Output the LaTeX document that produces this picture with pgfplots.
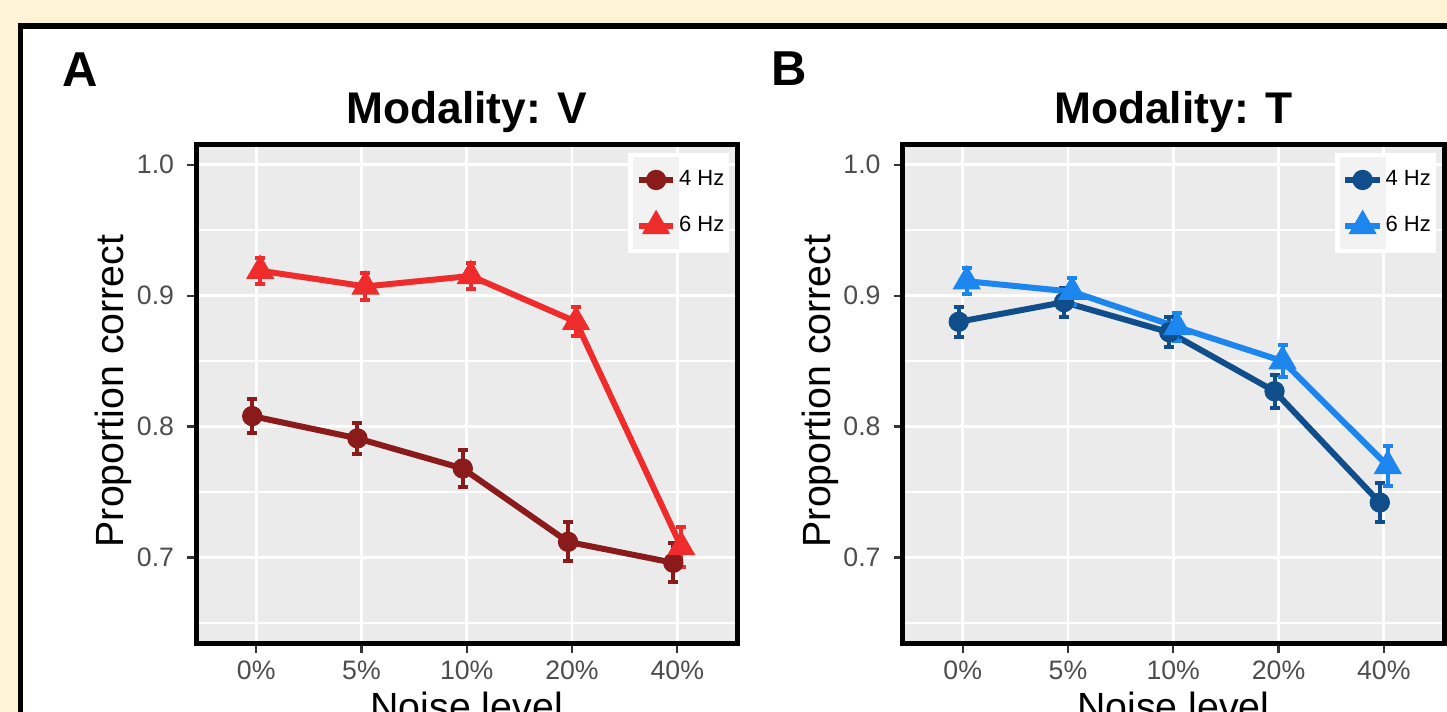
\documentclass[border=0pt]{standalone}
\usepackage{fontspec}
\setmainfont{Liberation Sans}
\usepackage{pgfplots}
\usepackage{pgfplotstable}
\pgfplotsset{compat=1.18}

\definecolor{beige}{HTML}{FFF3D6}
\definecolor{panelbg}{HTML}{EBEBEB}
\definecolor{keybg}{HTML}{F2F2F2}
\definecolor{ticktext}{HTML}{4D4D4D}
\definecolor{tickmark}{HTML}{333333}
\definecolor{dred}{HTML}{8B1A1A}
\definecolor{lred}{HTML}{EE2C2C}
\definecolor{dblue}{HTML}{104E8B}
\definecolor{lblue}{HTML}{1C86EE}

% x = noise level category (0%,5%,10%,20%,40% -> 0..4), dodged a little
\pgfplotstableread{
x      y      e
-0.038 0.808  0.0127
0.962  0.791  0.0120
1.962  0.768  0.0140
2.962  0.712  0.0150
3.962  0.696  0.0150
}\vfour
\pgfplotstableread{
x      y      e
0.038  0.919  0.0100
1.038  0.907  0.0100
2.038  0.915  0.0100
3.038  0.880  0.0110
4.038  0.708  0.0150
}\vsix
\pgfplotstableread{
x      y      e
-0.038 0.880  0.0114
0.962  0.895  0.0110
1.962  0.872  0.0114
2.962  0.827  0.0127
3.962  0.742  0.0152
}\tfour
\pgfplotstableread{
x      y      e
0.038  0.911  0.0100
1.038  0.903  0.0105
2.038  0.876  0.0110
3.038  0.850  0.0120
4.038  0.770  0.0150
}\tsix

\pgfplotsset{
  ggpanel/.style={
    width=162.45pt, height=149.7pt, scale only axis,
    xmin=-0.572, xmax=4.572, ymin=0.634, ymax=1.015,
    axis background/.style={fill=panelbg},
    xtick={0,1,2,3,4},
    xticklabels={0\%,5\%,10\%,20\%,40\%},
    ytick={0.7,0.8,0.9,1.0},
    minor ytick={0.65,0.75,0.85,0.95},
    xmajorgrids, ymajorgrids, yminorgrids,
    major grid style={white, line width=0.85pt},
    minor grid style={white, line width=0.45pt},
    tick align=outside, tick pos=left,
    major tick length=2.7pt, minor tick length=0pt,
    tick style={color=tickmark, line width=0.65pt},
    axis line style={line width=1.5pt, black},
    /pgf/number format/fixed,
    /pgf/number format/fixed zerofill,
    /pgf/number format/precision=1,
    /pgf/number format/assume math mode=true,
    tick label style={font=\fontsize{8}{9.6}\selectfont, text=ticktext},
    yticklabel style={inner sep=0pt, xshift=-3.7pt},
    xticklabel style={inner sep=0pt, yshift=-2.1pt},
    every axis title shift=0pt,
    title style={at={(axis description cs:0.5,1.044)}, anchor=base,
      font=\bfseries\fontsize{13.3}{16}\selectfont},
    every axis y label/.style={at={(axis description cs:-0.133,0.507)},
      rotate=90, anchor=base, font=\fontsize{11.8}{14}\selectfont},
    every axis x label/.style={at={(axis description cs:0.5,-0.154)},
      anchor=base, font=\fontsize{11.8}{14}\selectfont},
    xlabel={Noise level}, ylabel={Proportion correct},
    legend style={draw=none, fill=white, inner xsep=1.5pt, inner ysep=1.3pt,
      nodes={inner sep=0pt}, row sep=0pt, column sep=0pt,
      font=\fontsize{6.6}{8}\selectfont,
      at={(axis description cs:1,1)}, anchor=north east,
      xshift=-2.25pt, yshift=-2.1pt},
    legend cell align=left,
    legend image code/.code={
      \fill[keybg] (0pt,-6pt) rectangle (12pt,6pt);
      \draw[mark repeat=2, mark phase=2, #1]
        plot coordinates {(0.8pt,0pt) (6pt,0pt) (11.2pt,0pt)};
    },
  },
  ggline/.style={line width=1.8pt, mark options={solid, line width=0.3pt},
    error bars/.cd, y dir=both, y explicit,
    error bar style={line width=1.2pt, solid},
    error mark options={rotate=90, mark size=1.5pt, line width=1.2pt}},
}

\begin{document}
\begin{tikzpicture}[x=0.3pt, y=0.3pt]
\path[use as bounding box] (0,0) rectangle (1447,712);
\begin{scope}
\clip (0,0) rectangle (1447,712);
\fill[beige] (0,0) rectangle (1447,712);
\draw[line width=1.65pt, fill=white] (20.5,686) rectangle (1600,-100);

\node[anchor=base west, inner sep=0pt, font=\bfseries\fontsize{14.7}{17}\selectfont]
  at (62,625) {A};
\node[anchor=base west, inner sep=0pt, font=\bfseries\fontsize{14.7}{17}\selectfont]
  at (771,626) {B};

\begin{axis}[ggpanel, at={(58.8pt,20.4pt)}, anchor=south west,
  title={Modality: V}]
\addplot[color=dred, mark=*, mark size=2.9pt, ggline]
  table[x=x, y=y, y error=e] {\vfour};
\addlegendentry{4 Hz}
\addplot[color=lred, mark=triangle*, mark size=4.6pt, ggline]
  table[x=x, y=y, y error=e] {\vsix};
\addlegendentry{6 Hz}
\end{axis}

\begin{axis}[ggpanel, at={(270.75pt,20.4pt)}, anchor=south west,
  title={Modality: T}]
\addplot[color=dblue, mark=*, mark size=2.9pt, ggline]
  table[x=x, y=y, y error=e] {\tfour};
\addlegendentry{4 Hz}
\addplot[color=lblue, mark=triangle*, mark size=4.6pt, ggline]
  table[x=x, y=y, y error=e] {\tsix};
\addlegendentry{6 Hz}
\end{axis}
\end{scope}
\end{tikzpicture}
\end{document}
